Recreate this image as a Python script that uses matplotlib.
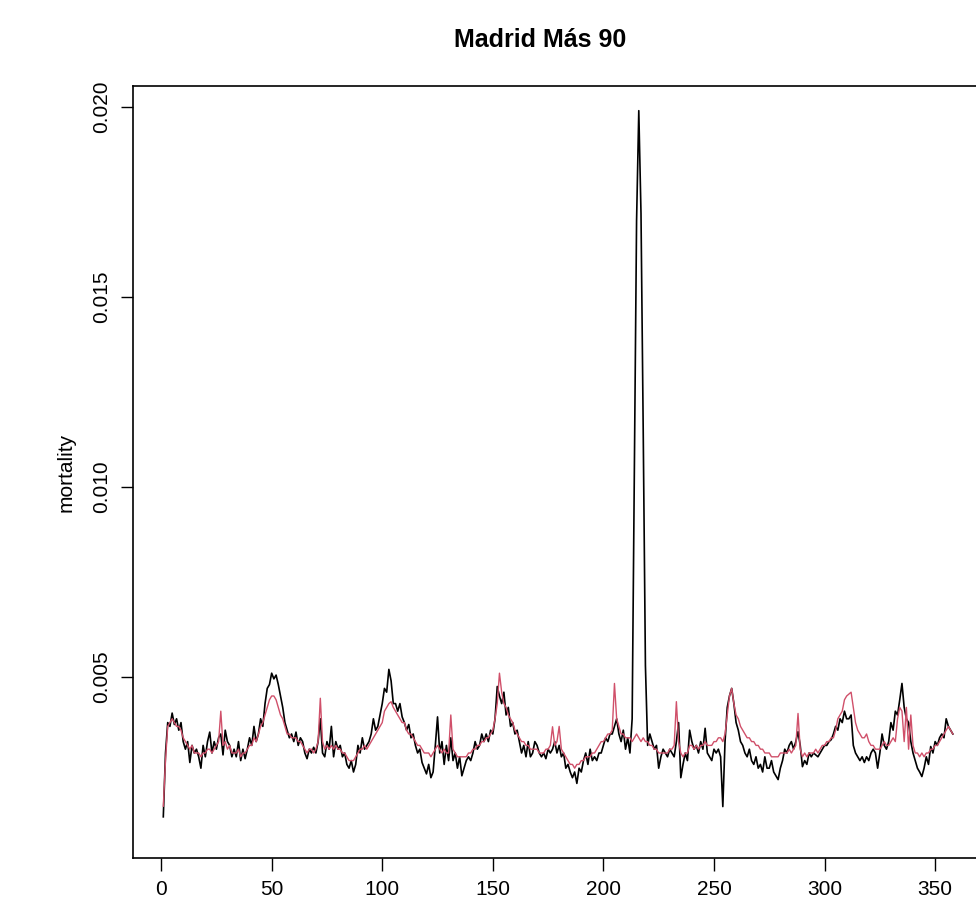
import numpy as np
import matplotlib
matplotlib.use("Agg")
import matplotlib.pyplot as plt

# mortalidad diaria, mayores de 90, Madrid (en tanto por mil; se pasa a tanto por uno abajo)
observada = [
    1.32, 3.0, 3.8, 3.7, 4.05, 3.75, 3.9, 3.6, 3.8, 3.3,
    3.1, 3.3, 2.75, 3.2, 3.0, 3.1, 2.9, 2.6, 3.2, 2.9,
    3.3, 3.55, 3.0, 3.3, 3.1, 3.4, 3.5, 2.95, 3.6, 3.3,
    3.2, 2.9, 3.1, 2.9, 3.3, 2.8, 3.1, 2.85, 3.1, 3.4,
    3.2, 3.7, 3.3, 3.5, 3.9, 3.7, 4.3, 4.7, 4.8, 5.1,
    4.95, 5.05, 4.8, 4.5, 4.2, 3.8, 3.6, 3.4, 3.5, 3.3,
    3.55, 3.2, 3.4, 3.3, 3.0, 2.85, 3.1, 3.0, 3.15, 3.0,
    3.3, 3.9, 3.0, 2.9, 3.3, 3.1, 3.7, 2.9, 3.3, 3.1,
    3.2, 2.9, 3.0, 2.7, 2.6, 2.8, 2.5, 2.7, 3.2, 3.0,
    3.4, 3.1, 3.2, 3.3, 3.5, 3.9, 3.6, 3.7, 4.0, 4.3,
    4.7, 4.6, 5.2, 4.9, 4.3, 4.3, 4.1, 4.3, 3.95, 3.8,
    3.6, 3.75, 3.4, 3.5, 3.2, 3.0, 3.1, 2.75, 2.6, 2.45,
    2.7, 2.35, 2.5, 3.2, 3.95, 3.0, 3.3, 2.7, 3.2, 2.8,
    3.4, 2.8, 3.0, 2.6, 2.9, 2.4, 2.6, 2.8, 2.9, 2.8,
    3.0, 3.3, 3.1, 3.2, 3.5, 3.3, 3.5, 3.3, 3.6, 3.5,
    3.9, 4.75, 4.5, 4.3, 4.6, 4.0, 4.2, 3.7, 3.8, 3.5,
    3.6, 3.3, 3.0, 3.2, 2.9, 3.3, 2.9, 3.0, 3.3, 3.2,
    3.0, 2.9, 3.0, 2.85, 3.1, 3.0, 3.1, 3.3, 3.0, 3.2,
    2.9, 3.0, 2.6, 2.7, 2.5, 2.35, 2.5, 2.2, 2.6, 2.5,
    2.8, 3.0, 2.7, 3.1, 2.8, 2.9, 2.8, 3.0, 3.0, 3.2,
    3.4, 3.3, 3.5, 3.5, 3.7, 3.9, 3.5, 3.3, 3.6, 3.1,
    3.4, 3.0, 3.9, 10.5, 17.0, 19.9, 17.2, 11.5, 5.3, 3.2,
    3.5, 3.3, 3.1, 3.2, 2.6, 2.9, 3.1, 3.0, 2.9, 3.1,
    3.0, 2.9, 3.3, 3.8, 2.35, 2.7, 3.0, 2.8, 3.6, 3.3,
    3.1, 3.2, 3.0, 3.3, 3.1, 3.65, 3.0, 2.9, 2.8, 3.1,
    3.0, 3.1, 2.9, 1.59, 3.3, 4.2, 4.5, 4.7, 4.3, 3.8,
    3.6, 3.3, 3.2, 3.0, 2.9, 3.1, 2.8, 2.7, 2.9, 2.6,
    2.7, 2.5, 2.9, 2.6, 2.6, 2.8, 2.5, 2.4, 2.3, 2.6,
    2.8, 3.1, 3.0, 3.2, 3.3, 3.1, 3.3, 3.56, 3.2, 2.64,
    2.8, 2.7, 3.0, 2.9, 3.0, 2.95, 2.9, 3.0, 3.1, 3.2,
    3.2, 3.3, 3.35, 3.5, 3.7, 3.6, 3.9, 3.8, 4.1, 3.9,
    3.9, 4.0, 3.2, 3.0, 2.9, 2.8, 2.9, 2.75, 2.9, 2.8,
    3.0, 3.1, 3.0, 2.6, 3.0, 3.5, 3.2, 3.1, 3.3, 3.8,
    3.6, 4.1, 4.0, 4.4, 4.83, 4.2, 3.9, 3.8, 3.3, 3.0,
    2.8, 2.6, 2.5, 2.38, 2.6, 2.9, 2.7, 3.17, 3.0, 3.3,
    3.2, 3.4, 3.5, 3.4, 3.9, 3.7, 3.6, 3.5,
]

ajustada = [
    1.6, 2.8, 3.7, 3.8, 3.9, 3.8, 3.7, 3.7, 3.6, 3.4,
    3.3, 3.2, 3.1, 3.2, 3.0, 3.0, 3.0, 2.9, 3.0, 3.0,
    3.1, 3.1, 3.0, 3.1, 3.2, 3.3, 4.1, 3.2, 3.3, 3.1,
    3.2, 3.0, 3.0, 3.0, 3.1, 2.9, 3.0, 3.0, 3.1, 3.2,
    3.2, 3.4, 3.3, 3.5, 3.7, 3.8, 4.0, 4.2, 4.4, 4.5,
    4.5, 4.4, 4.2, 4.0, 3.9, 3.7, 3.5, 3.5, 3.4, 3.4,
    3.4, 3.3, 3.3, 3.2, 3.1, 3.0, 3.1, 3.1, 3.0, 3.1,
    3.3, 4.44, 3.3, 3.1, 3.2, 3.1, 3.2, 3.1, 3.2, 3.1,
    3.1, 3.0, 3.0, 2.9, 2.8, 2.8, 2.8, 2.9, 3.0, 3.1,
    3.1, 3.2, 3.1, 3.2, 3.3, 3.4, 3.5, 3.6, 3.7, 3.8,
    4.1, 4.2, 4.3, 4.35, 4.2, 4.1, 4.0, 3.9, 3.8, 3.8,
    3.6, 3.5, 3.5, 3.4, 3.3, 3.2, 3.2, 3.1, 3.0, 3.0,
    3.0, 2.9, 3.0, 3.1, 3.2, 3.1, 3.0, 3.1, 3.0, 3.0,
    4.0, 3.1, 3.0, 2.9, 2.9, 2.9, 2.9, 2.9, 3.0, 3.0,
    3.1, 3.1, 3.2, 3.2, 3.3, 3.3, 3.4, 3.4, 3.5, 3.6,
    3.9, 4.3, 5.1, 4.6, 4.3, 4.2, 4.0, 3.9, 3.8, 3.6,
    3.5, 3.4, 3.3, 3.3, 3.2, 3.2, 3.1, 3.1, 3.1, 3.1,
    3.0, 3.0, 3.0, 3.1, 3.1, 3.2, 3.69, 3.2, 3.3, 3.7,
    3.1, 3.0, 2.9, 2.8, 2.7, 2.7, 2.6, 2.7, 2.7, 2.8,
    2.8, 2.9, 2.9, 2.9, 3.0, 3.0, 3.1, 3.2, 3.3, 3.3,
    3.4, 3.5, 3.5, 3.6, 4.83, 3.9, 3.7, 3.5, 3.5, 3.4,
    3.4, 3.4, 3.3, 3.4, 3.5, 3.4, 3.3, 3.4, 3.3, 3.3,
    3.2, 3.2, 3.1, 3.1, 3.0, 3.0, 3.0, 3.0, 3.0, 3.1,
    3.1, 3.2, 4.35, 3.3, 3.0, 2.9, 3.0, 3.0, 3.2, 3.2,
    3.1, 3.2, 3.1, 3.2, 3.2, 3.3, 3.2, 3.2, 3.2, 3.3,
    3.3, 3.4, 3.4, 3.3, 3.5, 4.0, 4.5, 4.7, 4.3, 4.0,
    3.9, 3.7, 3.6, 3.5, 3.4, 3.4, 3.3, 3.3, 3.2, 3.2,
    3.1, 3.1, 3.0, 3.0, 3.0, 2.9, 2.9, 2.9, 2.9, 3.0,
    3.0, 3.0, 3.0, 3.1, 3.0, 3.1, 3.2, 4.04, 3.1, 2.9,
    3.0, 2.9, 3.0, 3.0, 3.0, 3.1, 3.0, 3.1, 3.2, 3.2,
    3.3, 3.3, 3.4, 3.4, 3.6, 3.9, 4.0, 4.1, 4.4, 4.5,
    4.55, 4.6, 4.2, 3.8, 3.6, 3.5, 3.4, 3.4, 3.5, 3.3,
    3.2, 3.2, 3.1, 3.1, 3.1, 3.2, 3.3, 3.2, 3.2, 3.3,
    3.4, 3.3, 3.9, 4.2, 4.1, 3.3, 4.2, 3.1, 4.0, 3.2,
    3.0, 3.0, 2.9, 3.0, 2.9, 3.0, 3.0, 3.1, 3.1, 3.2,
    3.2, 3.3, 3.4, 3.5, 3.6, 3.7, 3.6, 3.5,
]

xticks = [0, 50, 100, 150, 200, 250, 300, 350]
yticks = [0.005, 0.010, 0.015, 0.020]

obs = np.array(observada) / 1000
fit = np.array(ajustada) / 1000
dias = np.arange(1, len(obs) + 1)

plt.rcParams["font.family"] = ["Liberation Sans", "DejaVu Sans"]

W, H = 976, 908
fig = plt.figure(figsize=(W / 100, H / 100), dpi=100)
# caja del grafico en pixeles (la derecha queda cortada como en la imagen original)
left, right, top, bottom = 133, 986, 86, 858
ax = fig.add_axes([left / W, 1 - bottom / H, (right - left) / W, (bottom - top) / H])

ax.plot(dias, obs, color="black", lw=1.2)
ax.plot(dias, fit, color="#D0506A", lw=1.0)

ax.set_xlim(-12.7, 373)
ax.set_ylim(0.000237, 0.02055)

ax.set_xticks(xticks)
ax.set_xticklabels([str(t) for t in xticks], fontsize=15)
ax.set_yticks(yticks)
ax.set_yticklabels([f"{t:.3f}" for t in yticks], fontsize=15, rotation=90, va="center")
ax.tick_params(direction="out", length=9, width=1.0, pad=7, colors="black")

for s in ax.spines.values():
    s.set_linewidth(1.2)

ax.set_ylabel("mortality", fontsize=15, labelpad=12)
fig.text(540 / W, 1 - 40 / H, "Madrid Más 90", ha="center", va="center",
         fontsize=18, fontweight="bold")

fig.savefig("out.png", dpi=100)
